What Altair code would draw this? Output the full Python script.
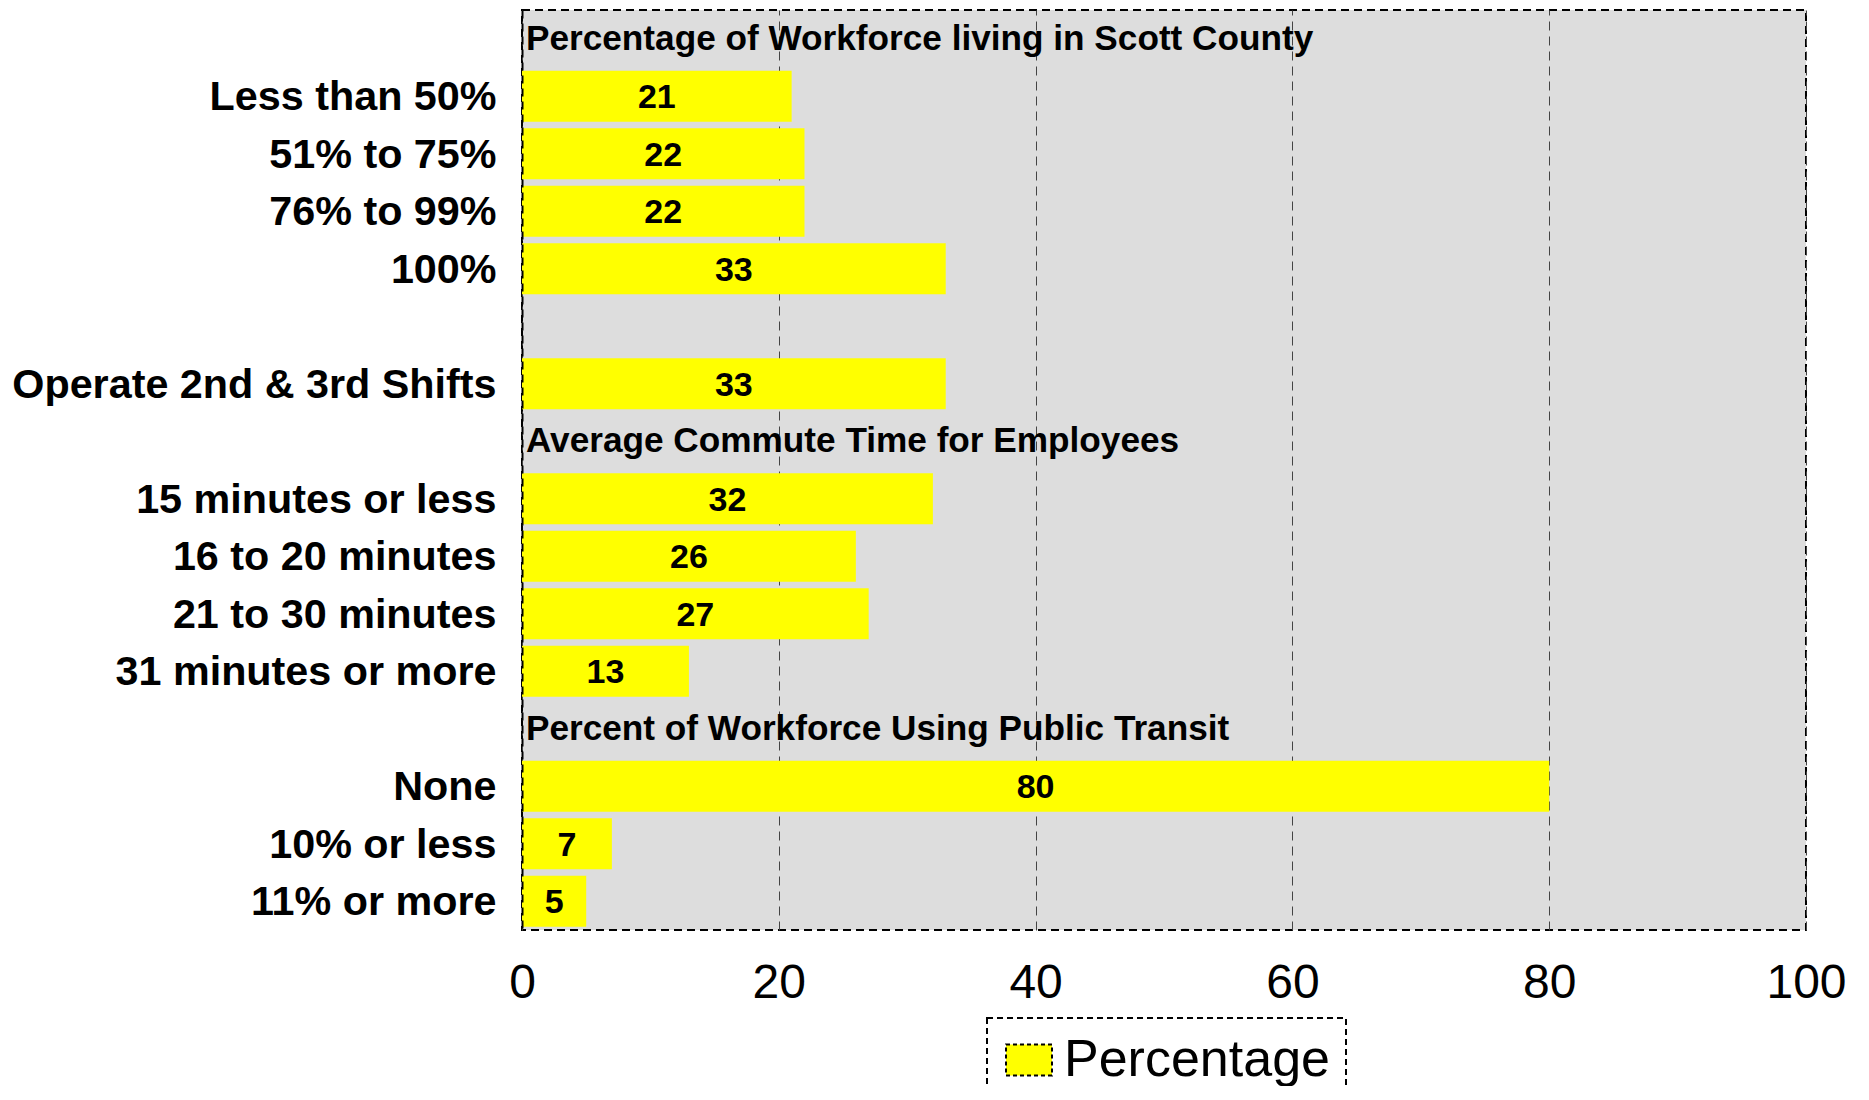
import altair as alt
import pandas as pd

# ---- data ----
row_keys = ["#h1", "Less than 50%", "51% to 75%", "76% to 99%", "100%", "#gap",
            "Operate 2nd & 3rd Shifts", "#h2", "15 minutes or less", "16 to 20 minutes",
            "21 to 30 minutes", "31 minutes or more", "#h3", "None", "10% or less", "11% or more"]
categories = ["Less than 50%", "51% to 75%", "76% to 99%", "100%", "Operate 2nd & 3rd Shifts",
              "15 minutes or less", "16 to 20 minutes", "21 to 30 minutes", "31 minutes or more",
              "None", "10% or less", "11% or more"]
values = [21, 22, 22, 33, 33, 32, 26, 27, 13, 80, 7, 5]
header_rows = ["#h1", "#h2", "#h3"]
header_texts = ["Percentage of Workforce living in Scott County",
                "Average Commute Time for Employees",
                "Percent of Workforce Using Public Transit"]
series_name = "Percentage"
x_ticks = [0, 20, 40, 60, 80, 100]

bars_df = pd.DataFrame({"row": categories, "value": values, "series": [series_name] * len(values)})
head_df = pd.DataFrame({"row": header_rows, "text": header_texts})

FONT = "Liberation Sans"

yscale = alt.Scale(domain=row_keys, paddingInner=0.113, paddingOuter=0.0565)
y_axis = alt.Axis(
    title=None,
    labelExpr="indexof(datum.value, '#') == 0 ? '' : datum.value",
    labelFont=FONT, labelFontSize=41.3, labelFontWeight="bold", labelColor="black",
    ticks=False, domain=True, domainColor="black", domainDash=[8, 5], domainWidth=2,
    labelPadding=26, labelLimit=1000, labelOffset=2, zindex=1,
)
xscale = alt.Scale(domain=[0, 100], nice=False)
x_axis = alt.Axis(
    values=x_ticks, title=None, grid=True, gridDash=[9, 6], gridColor="#444444", gridWidth=1,
    ticks=False, domain=False, labelFont=FONT, labelFontSize=48, labelColor="black",
    labelPadding=29, labelFlush=False,
)

bars = alt.Chart(bars_df).mark_bar().encode(
    y=alt.Y("row:N", scale=yscale, axis=y_axis, sort=row_keys),
    x=alt.X("value:Q", scale=xscale, axis=x_axis),
    color=alt.Color(
        "series:N",
        scale=alt.Scale(domain=[series_name], range=["#FFFF00"]),
        legend=alt.Legend(
            title=None, orient="none", legendX=465, legendY=1008, direction="horizontal",
            symbolType="M-1,-0.674H1V0.674H-1Z", symbolSize=2116,
            symbolStrokeColor="black", symbolStrokeWidth=2, symbolDash=[4, 3],
            symbolFillColor="#FFFF00",
            labelFont=FONT, labelFontSize=52, labelColor="black", labelOffset=9, labelLimit=1000,
            padding=16, strokeColor="black",
        ),
    ),
)

labels = alt.Chart(bars_df).transform_calculate(mid="datum.value / 2").mark_text(
    font=FONT, fontSize=34, fontWeight="bold", color="black", baseline="middle", align="center", dy=2
).encode(
    y=alt.Y("row:N", scale=yscale, sort=row_keys),
    x=alt.X("mid:Q", scale=xscale),
    text=alt.Text("value:Q"),
)

heads = alt.Chart(head_df).mark_text(
    font=FONT, fontSize=35.2, fontWeight="bold", color="black", align="left", baseline="middle", dx=4, dy=0
).encode(
    y=alt.Y("row:N", scale=yscale, sort=row_keys),
    x=alt.value(0),
    text="text:N",
)

chart = alt.layer(bars, labels, heads).properties(
    width=1284, height=920,
    autosize=alt.AutoSizeParams(type="none"),
    padding={"left": 514, "top": 2, "right": 40, "bottom": 156},
).configure_view(
    stroke="black", strokeDash=[8, 5], strokeWidth=2, fill="#DDDDDD"
).configure_legend(
    strokeDash=[6, 4], strokeWidth=2
)

chart.save("out.html", embed_options={"renderer": "svg", "actions": False})
